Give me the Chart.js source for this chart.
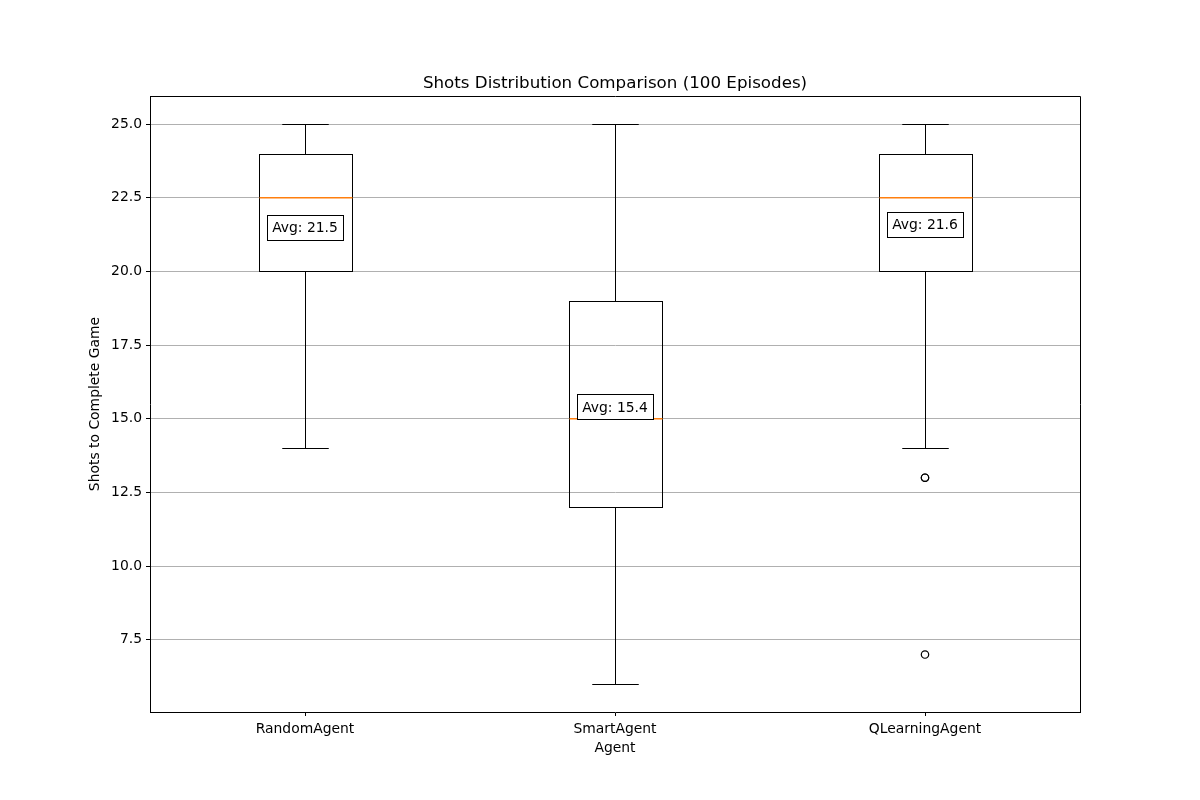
<!DOCTYPE html>
<html>
<head>
<meta charset="utf-8">
<script src="https://cdn.jsdelivr.net/npm/chart.js@4/dist/chart.umd.min.js"></script>
<style>
html,body{margin:0;padding:0;background:#fff;}
#wrap{width:1200px;height:800px;}
</style>
</head>
<body>
<div id="wrap"><canvas id="c" width="1200" height="800"></canvas></div>
<script>
const categories = ['RandomAgent', 'SmartAgent', 'QLearningAgent'];
const whiskerLow = [14, 6, 14];
const q1 = [20, 12, 20];
const medians = [22.5, 15, 22.5];
const q3 = [24, 19, 24];
const whiskerHigh = [25, 25, 25];
const averages = [21.5, 15.4, 21.6];
const outliers = [[], [], [13, 13, 7]];
const yTicks = [7.5, 10.0, 12.5, 15.0, 17.5, 20.0, 22.5, 25.0];
const yMin = 5.05, yMax = 25.95;

const FONT = 'DejaVu Sans';
Chart.defaults.font.family = FONT;
Chart.defaults.font.size = 13.9;
Chart.defaults.color = '#000';

const boxData = categories.map((c, i) => [q1[i], q3[i]]);
const outlierPoints = [];
outliers.forEach((arr, i) => arr.forEach(v => outlierPoints.push({x: categories[i], y: v})));

const align = v => Math.round(v) + 0.5;

const boxPlugin = {
  id: 'boxExtras',
  afterDatasetsDraw(chart) {
    const ctx = chart.ctx;
    const xs = chart.scales.x, ys = chart.scales.y;
    const meta = chart.getDatasetMeta(0);
    ctx.save();
    ctx.lineWidth = 1;
    categories.forEach((c, i) => {
      const bar = meta.data[i];
      const cx = align(bar.x);
      const bw = bar.width;
      const capHalf = bw / 4;
      ctx.strokeStyle = '#000';
      // box outline (from the bar element geometry)
      const bl = align(bar.x - bw / 2), br = align(bar.x + bw / 2);
      const bt = align(Math.min(bar.y, bar.base)), bb = align(Math.max(bar.y, bar.base));
      ctx.strokeRect(bl, bt, br - bl, bb - bt);
      // whiskers
      ctx.beginPath();
      ctx.moveTo(cx, bt);
      ctx.lineTo(cx, align(ys.getPixelForValue(whiskerHigh[i])));
      ctx.moveTo(cx, bb);
      ctx.lineTo(cx, align(ys.getPixelForValue(whiskerLow[i])));
      ctx.stroke();
      // caps
      ctx.beginPath();
      const yh = align(ys.getPixelForValue(whiskerHigh[i]));
      const yl = align(ys.getPixelForValue(whiskerLow[i]));
      ctx.moveTo(cx - capHalf, yh); ctx.lineTo(cx + capHalf, yh);
      ctx.moveTo(cx - capHalf, yl); ctx.lineTo(cx + capHalf, yl);
      ctx.stroke();
      // median
      ctx.strokeStyle = '#ff7f0e';
      ctx.lineWidth = 1.4;
      const ym = ys.getPixelForValue(medians[i]);
      ctx.beginPath();
      ctx.moveTo(bl, ym); ctx.lineTo(br, ym);
      ctx.stroke();
      ctx.lineWidth = 1;
    });
    // average labels
    ctx.font = '13.9px ' + FONT;
    ctx.textAlign = 'center';
    ctx.textBaseline = 'middle';
    categories.forEach((c, i) => {
      const cx = xs.getPixelForValue(i);
      const cy = ys.getPixelForValue(averages[i]);
      const txt = 'Avg: ' + averages[i].toFixed(1);
      const w = Math.round(ctx.measureText(txt).width + 10);
      const h = 25;
      const x0 = Math.round(cx - w / 2) + 0.5, y0 = Math.round(cy - h / 2) + 0.5;
      ctx.fillStyle = '#fff';
      ctx.fillRect(x0, y0, w, h);
      ctx.strokeStyle = '#000';
      ctx.strokeRect(x0, y0, w, h);
      ctx.fillStyle = '#000';
      ctx.fillText(txt, cx, cy + 1);
    });
    // top/right spines
    const a = chart.chartArea;
    ctx.strokeStyle = '#000';
    ctx.beginPath();
    ctx.moveTo(align(a.left), align(a.top));
    ctx.lineTo(align(a.right), align(a.top));
    ctx.lineTo(align(a.right), align(a.bottom));
    ctx.stroke();
    ctx.restore();
  }
};

new Chart(document.getElementById('c'), {
  type: 'bar',
  data: {
    labels: categories,
    datasets: [
      {
        type: 'bar',
        data: boxData,
        backgroundColor: 'rgba(0,0,0,0)',
        borderColor: 'rgba(0,0,0,0)',
        borderWidth: 0,
        borderSkipped: false,
        barPercentage: 0.3,
        categoryPercentage: 1.0,
        order: 2
      },
      {
        type: 'line',
        data: outlierPoints,
        showLine: false,
        pointStyle: 'circle',
        pointRadius: 3.7,
        pointBorderWidth: 1.2,
        pointBorderColor: '#000',
        pointBackgroundColor: 'rgba(0,0,0,0)',
        order: 1
      }
    ]
  },
  options: {
    responsive: false,
    animation: false,
    layout: {padding: {left: 0, right: 120, top: 0, bottom: 0}},
    plugins: {
      legend: {display: false},
      tooltip: {enabled: false},
      title: {
        display: true,
        fullSize: false,
        text: 'Shots Distribution Comparison (100 Episodes)',
        font: {size: 16.7, weight: 'normal', family: FONT},
        color: '#000',
        padding: {top: 74, bottom: 2}
      }
    },
    scales: {
      x: {
        type: 'category',
        offset: true,
        grid: {display: true, drawOnChartArea: false, drawTicks: true, tickLength: 4, tickColor: '#000', offset: false},
        border: {display: true, color: '#000', width: 1},
        ticks: {padding: 5, color: '#000', font: {size: 13.9}},
        title: {display: true, text: 'Agent', color: '#000', font: {size: 13.9}, padding: {top: 0, bottom: 43.7}},
        afterFit(scale) { scale.height = 88; }
      },
      y: {
        type: 'linear',
        min: yMin,
        max: yMax,
        afterBuildTicks(scale) { scale.ticks = yTicks.map(v => ({value: v})); },
        ticks: {
          padding: 4,
          color: '#000',
          font: {size: 13.9},
          callback: v => Number(v).toFixed(1)
        },
        grid: {color: '#b0b0b0', lineWidth: 1, tickColor: '#000', tickLength: 4},
        border: {display: true, color: '#000', width: 1},
        title: {display: true, text: 'Shots to Complete Game', color: '#000', font: {size: 13.9}, padding: {top: 86.6, bottom: 0}},
        afterFit(scale) { scale.width = 150; }
      }
    }
  },
  plugins: [boxPlugin]
});
</script>
</body>
</html>
